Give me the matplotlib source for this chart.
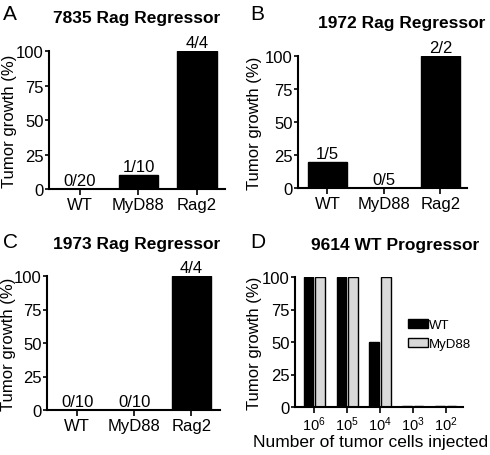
import matplotlib.pyplot as plt
import numpy as np

plt.rcParams['font.family'] = ['Liberation Sans', 'DejaVu Sans']
plt.rcParams['mathtext.fontset'] = 'custom'
plt.rcParams['mathtext.rm'] = 'Liberation Sans'
plt.rcParams['mathtext.it'] = 'Liberation Sans'

# panel A-C data
groups = ['WT', 'MyD88', 'Rag2']
a_vals = [0, 10, 100]
a_counts = ['0/20', '1/10', '4/4']
b_vals = [20, 0, 100]
b_counts = ['1/5', '0/5', '2/2']
c_vals = [0, 0, 100]
c_counts = ['0/10', '0/10', '4/4']

# panel D data
doses = [r'$10^6$', r'$10^5$', r'$10^4$', r'$10^3$', r'$10^2$']
d_wt = [100, 100, 50, 1, 1]
d_myd88 = [100, 100, 100, 1, 1]

W, H = 490, 456
fig = plt.figure(figsize=(W / 100, H / 100), dpi=100)


def px_axes(l, r, top, bot):
    ax = fig.add_axes([l / W, 1 - bot / H, (r - l) / W, (bot - top) / H])
    ax.px = (l, r, top, bot)
    return ax


def style(ax, label_x):
    for s in ['top', 'right']:
        ax.spines[s].set_visible(False)
    ax.spines['left'].set_linewidth(1.5)
    ax.spines['bottom'].set_linewidth(1.5)
    ax.set_ylim(0, 100)
    ax.set_yticks([0, 25, 50, 75, 100])
    ax.tick_params(labelsize=12, width=1.2)
    ax.tick_params(axis='y', length=3, pad=1)
    ax.tick_params(axis='x', length=4, pad=2)
    ax.set_ylabel('Tumor growth (%)', fontsize=12, va='center')
    l, r, top, bot = ax.px
    ax.yaxis.set_label_coords((label_x - l) / (r - l), 0.5)


def bar_panel(ax, vals, counts, xlim, width):
    x = np.arange(len(groups))
    ax.bar(x, vals, width=width, color='black', edgecolor='black')
    for xi, v, c in zip(x, vals, counts):
        ax.text(xi, v + 0.8, c, ha='center', va='bottom', fontsize=12)
    ax.set_xticks(x)
    ax.set_xticklabels(groups)
    ax.set_xlim(*xlim)
    style(ax, 9 if ax.px[0] < 200 else 254)


axA = px_axes(49, 225, 52, 190)
bar_panel(axA, a_vals, a_counts, (-0.53, 2.48), 0.68)
axB = px_axes(298, 467, 57, 189)
bar_panel(axB, b_vals, b_counts, (-0.52, 2.47), 0.69)
axC = px_axes(47, 220, 277, 411)
bar_panel(axC, c_vals, c_counts, (-0.53, 2.5), 0.68)

axD = px_axes(295, 463, 278, 408)
xd = np.arange(len(doses))
axD.bar(xd - 0.18, d_wt, width=0.28, color='black', edgecolor='black',
        linewidth=1, label='WT')
axD.bar(xd + 0.18, d_myd88, width=0.28, color='#d9d9d9', edgecolor='black',
        linewidth=1, label='MyD88')
axD.set_xticks(xd)
axD.set_xticklabels(doses)
axD.set_xlim(-0.58, 4.52)
style(axD, 254)
axD.tick_params(axis='x', labelsize=10.5, pad=1)
axD.set_xlabel('Number of tumor cells injected', fontsize=12.5, va='center')
axD.xaxis.set_label_coords((371 - 295) / 168, (408 - 443) / 130)
axD.legend(loc='upper left', bbox_to_anchor=((408 - 295) / 168, (408 - 320) / 130),
           frameon=False, fontsize=9.5, handlelength=1.5, handleheight=0.6,
           handletextpad=0.05, labelspacing=0.55, borderpad=0, borderaxespad=0)

# titles and panel letters
tkw = dict(ha='center', va='center', fontsize=12.5, fontweight='bold')
fig.text(137 / W, 1 - 18 / H, '7835 Rag Regressor', **tkw)
fig.text(402 / W, 1 - 24 / H, '1972 Rag Regressor', **tkw)
fig.text(137 / W, 1 - 245 / H, '1973 Rag Regressor', **tkw)
fig.text(395 / W, 1 - 246 / H, '9614 WT Progressor', **tkw)
for lx, ly, lt in [(3, 15, 'A'), (250, 15, 'B'), (3, 243, 'C'), (250, 243, 'D')]:
    fig.text(lx / W, 1 - ly / H, lt, ha='left', va='center', fontsize=15)

fig.savefig('out.png', dpi=100)
